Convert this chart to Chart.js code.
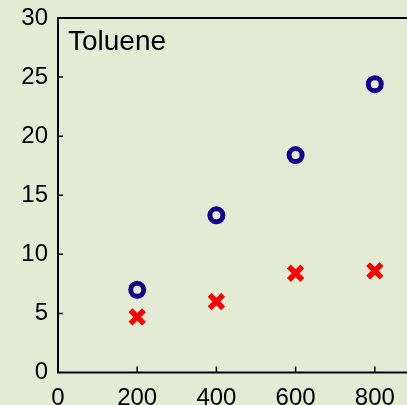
<!DOCTYPE html>
<html>
<head>
<meta charset="utf-8">
<script src="https://cdn.jsdelivr.net/npm/chart.js@4/dist/chart.umd.min.js"></script>
<style>
  html, body { margin: 0; padding: 0; background: #e3ebd5; overflow: hidden; }
  #wrap { position: absolute; left: 0; top: 0; width: 500px; height: 415px; }
</style>
</head>
<body>
<div id="wrap"><canvas id="c" width="500" height="415"></canvas></div>
<script>
// Flow rates (x) and the two measured series for toluene
const xValues = [200, 400, 600, 800];
const circleSeries = [7.0, 13.3, 18.4, 24.4];
const crossSeries = [4.7, 6.0, 8.4, 8.6];
const panelLabel = 'Toluene';
const xTickValues = [0, 200, 400, 600, 800, 1000];
const yTickValues = [0, 5, 10, 15, 20, 25, 30];

const BG = '#e3ebd5';
const FONT = "'Liberation Sans', Arial, Helvetica, sans-serif";

Chart.defaults.font.family = FONT;
Chart.defaults.color = '#000';

const toPoints = ys => xValues.map((x, i) => ({ x: x, y: ys[i] }));

// Background, frame box, inward tick marks and the panel label
const framePlugin = {
  id: 'frame',
  beforeDraw(chart) {
    const ctx = chart.ctx;
    ctx.save();
    ctx.fillStyle = BG;
    ctx.fillRect(0, 0, chart.width, chart.height);
    ctx.restore();
  },
  afterDraw(chart) {
    const { ctx, chartArea: a, scales } = chart;
    ctx.save();
    ctx.strokeStyle = '#000';
    ctx.lineWidth = 1.5;
    ctx.beginPath();
    xTickValues.forEach(v => {
      const px = scales.x.getPixelForValue(v);
      if (v === scales.x.min || v === scales.x.max) return;
      ctx.moveTo(px, a.bottom);
      ctx.lineTo(px, a.bottom - 6);
    });
    yTickValues.forEach(v => {
      const py = scales.y.getPixelForValue(v);
      if (v === scales.y.min || v === scales.y.max) return;
      ctx.moveTo(a.left, py);
      ctx.lineTo(a.left + 5, py);
    });
    ctx.stroke();
    ctx.lineWidth = 2;
    ctx.strokeRect(a.left, a.top, a.right - a.left, a.bottom - a.top);
    ctx.fillStyle = '#000';
    ctx.font = '28px ' + FONT;
    ctx.textAlign = 'left';
    ctx.textBaseline = 'alphabetic';
    ctx.fillText(panelLabel, a.left + 10, a.top + 32);
    ctx.restore();
  }
};

new Chart(document.getElementById('c'), {
  type: 'scatter',
  data: {
    datasets: [
      {
        label: 'circles',
        data: toPoints(circleSeries),
        pointStyle: 'circle',
        pointRadius: 6.5,
        pointHoverRadius: 6.5,
        pointBorderWidth: 5,
        borderColor: '#14008a',
        backgroundColor: 'rgba(0,0,0,0)'
      },
      {
        label: 'crosses',
        data: toPoints(crossSeries),
        pointStyle: 'crossRot',
        pointRadius: 9.5,
        pointHoverRadius: 9.5,
        pointBorderWidth: 5.5,
        borderColor: '#ff0000',
        backgroundColor: '#ff0000'
      }
    ]
  },
  options: {
    responsive: false,
    animation: false,
    events: [],
    layout: { padding: { top: 18, left: 0, right: 46, bottom: 0 } },
    plugins: {
      legend: { display: false },
      tooltip: { enabled: false }
    },
    scales: {
      x: {
        type: 'linear',
        min: 0,
        max: 1000,
        afterBuildTicks: s => { s.ticks = xTickValues.map(v => ({ value: v })); },
        afterFit: s => { s.height = 42.5; s.paddingLeft = 0; s.paddingRight = 0; },
        grid: { display: false, drawTicks: false },
        border: { display: false },
        ticks: { padding: 11, font: { size: 24 }, color: '#000', maxRotation: 0 }
      },
      y: {
        type: 'linear',
        min: 0,
        max: 30,
        afterBuildTicks: s => { s.ticks = yTickValues.map(v => ({ value: v })); },
        afterFit: s => { s.width = 58; s.paddingTop = 0; s.paddingBottom = 0; },
        grid: { display: false, drawTicks: false },
        border: { display: false },
        ticks: { padding: 10, font: { size: 24 }, color: '#000' }
      }
    }
  },
  plugins: [framePlugin]
});
</script>
</body>
</html>
